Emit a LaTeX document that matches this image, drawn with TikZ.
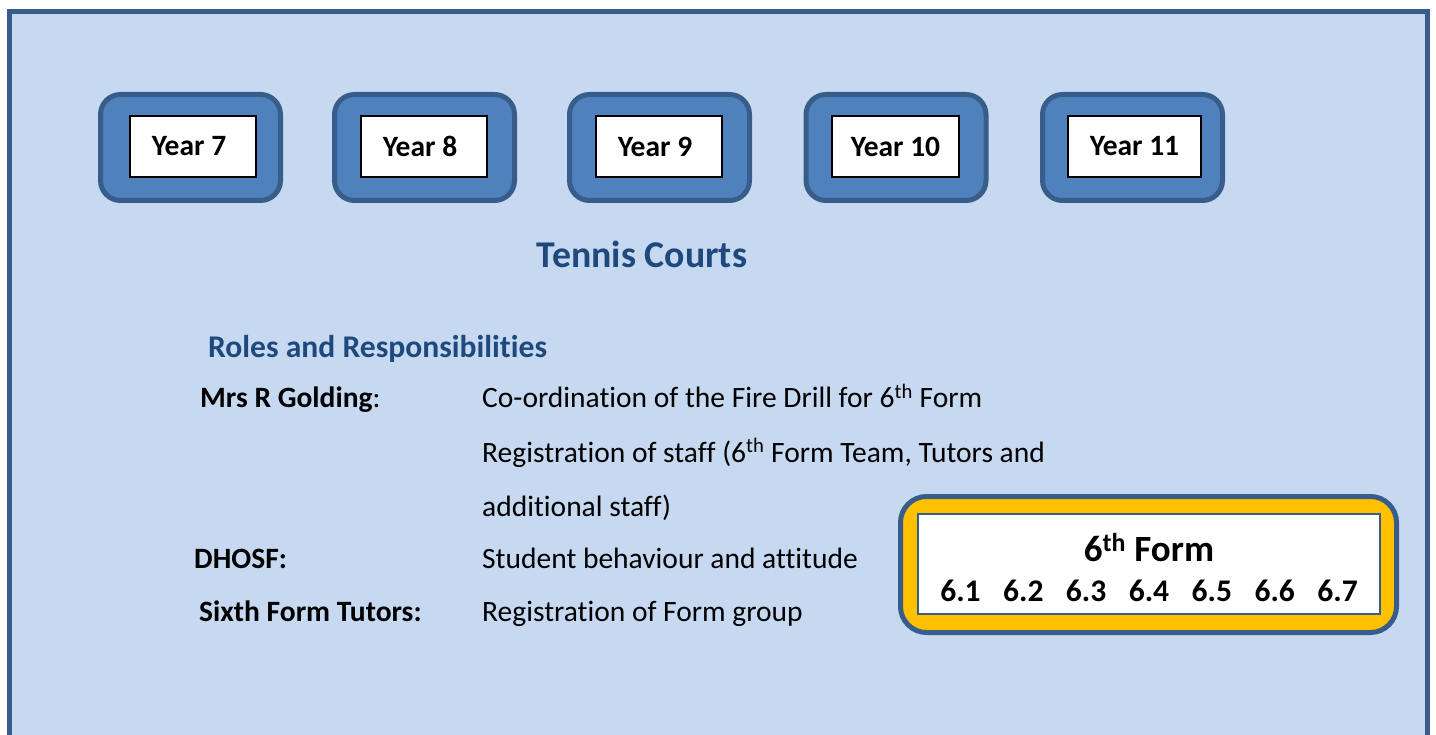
\documentclass[tikz,border=0pt]{standalone}
\usepackage{fontspec}
\setmainfont{Carlito}[Ligatures=NoCommon]
\definecolor{framefill}{HTML}{C6D9F1}
\definecolor{frameline}{HTML}{385D8A}
\definecolor{padfill}{HTML}{4F81BD}
\definecolor{goldfill}{HTML}{FFC000}
\definecolor{headblue}{HTML}{1F497D}
\tikzset{
  yearpad/.style  = {shape=rectangle, rounded corners=20pt,
                     draw=frameline, line width=5pt, fill=padfill,
                     minimum width=180pt, minimum height=106pt},
  yearcard/.style = {shape=rectangle, draw=black, line width=2pt,
                     fill=white, inner sep=0pt, minimum height=61pt,
                     font=\fontsize{29.5}{34}\selectfont\bfseries},
  lefttext/.style = {execute at end node=\hspace*{8pt}},
  formpad/.style  = {yearpad, rounded corners=26pt, fill=goldfill,
                     minimum width=496pt, minimum height=136pt},
  formcard/.style = {shape=rectangle, draw=frameline, line width=1.2pt,
                     fill=white, minimum width=462pt, minimum height=100pt},
  formtext/.style = {inner sep=0pt, font=\fontsize{31.5}{34}\selectfont\bfseries},
  heading/.style  = {text=headblue, inner sep=0pt,
                     font=\fontsize{37.8}{42}\selectfont\bfseries},
  subhead/.style  = {heading, font=\fontsize{31.6}{36}\selectfont\bfseries},
  who/.style      = {inner sep=0pt, anchor=base west,
                     font=\fontsize{29.5}{34}\selectfont},
  duty/.style     = {who}
}

\begin{document}
\begin{tikzpicture}[x=1pt, y=-1pt]
  \useasboundingbox (0,0) rectangle (1436,735);
  \clip (0,0) rectangle (1436,735);

  % outer frame, open at the bottom of the page
  \draw[draw=frameline, line width=5pt, fill=framefill]
    (9.5,12) rectangle (1427,770);

  % year group assembly points
  \node[yearpad] (pad7)  at (190.5,147.5) {};
  \node[yearpad] (pad8)  at (424.5,147.5) {};
  \node[yearpad] (pad9)  at (659.5,147.5) {};
  \node[yearpad] (pad10) at (896,147.5) {};
  \node[yearpad] (pad11) at (1132.5,147.5) {};
  \node[yearcard, lefttext, minimum width=126pt] (year7)  at (193,146.5) {Year 7};
  \node[yearcard, lefttext, minimum width=126pt] (year8)  at (424,146.5) {Year 8};
  \node[yearcard, lefttext, minimum width=126pt] (year9)  at (659,146.5) {Year 9};
  \node[yearcard, minimum width=127pt] (year10) at (895.5,146.5) {Year 10};
  \node[yearcard, minimum width=133pt] (year11) at (1134.5,146.5) {Year 11};

  \node[heading, anchor=base] (courts) at (642,268) {Tennis Courts};

  % roles
  \node[subhead, anchor=base west] (roles) at (208,358)
    {Roles and Responsibilities};
  \node[who] (golding) at (200,408) {\textbf{Mrs R Golding}:};
  \node[who] (dhosf)   at (194,568) {\textbf{DHOSF:}};
  \node[who] (tutors)  at (199,621) {\textbf{Sixth Form Tutors:}};
  \node[duty] (drill)   at (482,408)
    {Co-ordination of the Fire Drill for 6\textsuperscript{th} Form};
  \node[duty] (staff)   at (482,462)
    {Registration of staff (6\textsuperscript{th} Form Team, Tutors and};
  \node[duty] (extra)   at (482,516) {additional staff)};
  \node[duty] (conduct) at (482,568) {Student behaviour and attitude};
  \node[duty] (group)   at (482,621) {Registration of Form group};

  % sixth form assembly point
  \node[formpad]  (padsix) at (1148.5,564.5) {};
  \node[formcard] (sixth)  at (1149,564) {};
  \node[formtext, font=\fontsize{37}{40}\selectfont\bfseries, anchor=base]
    (sixtitle) at (1149,561) {6\textsuperscript{th} Form};
  \node[formtext, anchor=base] (sixgroups) at (1149,601)
    {6.1\hspace{22.5pt}6.2\hspace{22.5pt}6.3\hspace{22.5pt}6.4%
     \hspace{22.5pt}6.5\hspace{22.5pt}6.6\hspace{22.5pt}6.7};
\end{tikzpicture}
\end{document}
